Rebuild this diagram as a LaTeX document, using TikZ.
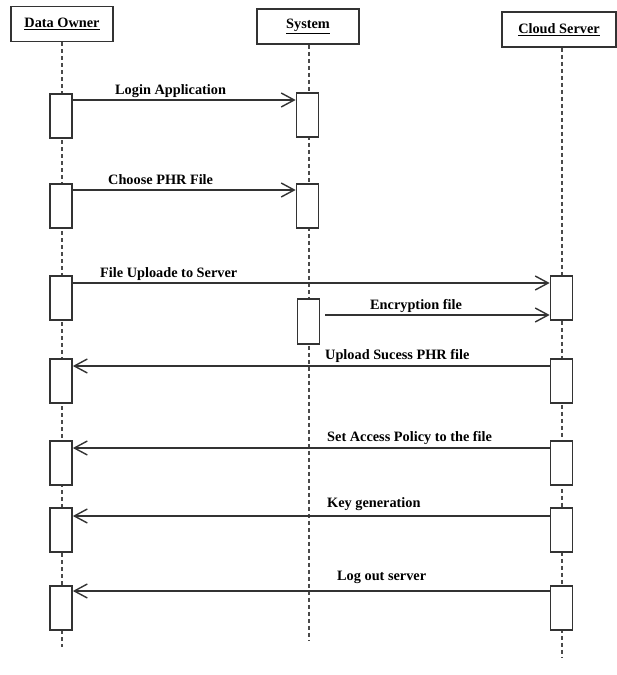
\documentclass[tikz,border=0pt]{standalone}
\usepackage{fontspec}
\setmainfont{Liberation Serif}
\usetikzlibrary{arrows.meta, positioning}
\definecolor{ink}{HTML}{333333}
\definecolor{dashink}{HTML}{4A4A4A}
\tikzset{
  font=\fontsize{14.3}{16}\selectfont\bfseries,
  actor/.style={
    draw=ink, fill=white, line width=1.8pt, inner sep=0pt,
    minimum width=#1, minimum height=35pt
  },
  actor/.default=102pt,
  act/.style={
    draw=ink, fill=white, line width=1.7pt, inner sep=0pt,
    minimum width=22pt, minimum height=44pt, anchor=north
  },
  life/.style={draw=dashink, line width=1.4pt, dash pattern=on 4pt off 3pt},
  msg/.style={draw=ink, line width=1.5pt,
    -{Straight Barb[length=13pt, width=14pt, line width=1.4pt]}},
  lab/.style={anchor=base west, inner sep=0pt}
}
\begin{document}
\begin{tikzpicture}[x=1pt, y=-1pt]
  \useasboundingbox (0,0) rectangle (617,675);
  % lifelines heads
  \node[actor] (do) at (62,24) {\underline{Data Owner}};
  \node[actor] (sy) at (308,26.5) {\underline{System}};
  \node[actor=114pt] (cs) at (559,29.5) {\underline{Cloud Server}};
  \coordinate (doend) at (62,647);
  \coordinate (syend) at (309,640);
  \coordinate (csend) at (562,657);
  \draw[life] (do.south) -- (doend);
  \draw[life] (sy.south -| syend) -- (syend);
  \draw[life] (cs.south -| csend) -- (csend);
  % activation boxes
  \foreach \y [count=\i] in {93,183,275,358,440,507,585}
    \node[act] (do\i) at (61,\y) {};
  \foreach \y [count=\i] in {275,358,440,507,585}
    \node[act] (cs\i) at (561.5,\y) {};
  \node[act] (sy1) at (307.5,92) {};
  \node[act] (sy2) at (307.5,183) {};
  \node[act, minimum height=45pt] (sy3) at (308.5,298) {};
  % messages
  \draw[msg] ([yshift=-7pt]do1.north east) coordinate (m1) -- (m1 -| sy1.west);
  \node[lab] (l1) at (115,94) {Login Application};
  \draw[msg] ([yshift=-7pt]do2.north east) coordinate (m2) -- (m2 -| sy2.west);
  \node[lab] (l2) at (108,184) {Choose PHR File};
  \draw[msg] ([yshift=-8pt]do3.north east) coordinate (m3) -- (m3 -| cs1.west);
  \node[lab] (l3) at (100,277) {File Uploade to Server};
  \draw[msg] ([shift={(5pt,-17pt)}]sy3.north east) coordinate (m4) -- (m4 -| cs1.west);
  \node[lab] (l4) at (370,309) {Encryption file};
  \draw[msg] ([yshift=-8pt]cs2.north west) coordinate (m5) -- (m5 -| do4.east);
  \node[lab] (l5) at (325,359) {Upload Sucess PHR file};
  \draw[msg] ([yshift=-8pt]cs3.north west) coordinate (m6) -- (m6 -| do5.east);
  \node[lab] (l6) at (327,441) {Set Access Policy to the file};
  \draw[msg] ([yshift=-9pt]cs4.north west) coordinate (m7) -- (m7 -| do6.east);
  \node[lab] (l7) at (327,507) {Key generation};
  \draw[msg] ([yshift=-6pt]cs5.north west) coordinate (m8) -- (m8 -| do7.east);
  \node[lab] (l8) at (337,580) {Log out server};
\end{tikzpicture}
\end{document}
